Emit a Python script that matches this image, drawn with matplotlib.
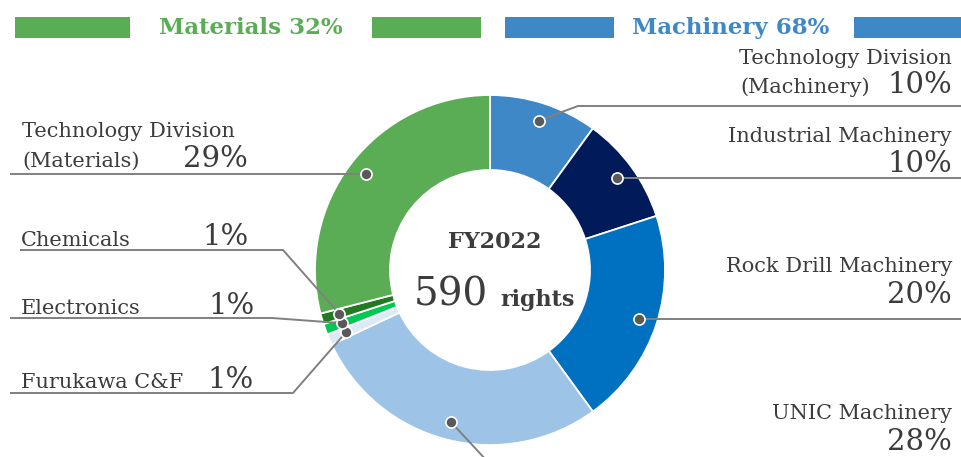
import matplotlib
matplotlib.use("Agg")
import matplotlib.pyplot as plt
import numpy as np

# data (clockwise from 12 o'clock)
segments = ["Technology Division (Machinery)", "Industrial Machinery", "Rock Drill Machinery",
            "UNIC Machinery", "Furukawa C&F", "Electronics", "Chemicals",
            "Technology Division (Materials)"]
shares = [10, 10, 20, 28, 1, 1, 1, 29]
seg_colors = ["#3f88c8", "#001a5a", "#0070c0", "#9dc3e6", "#dce9f6", "#00c853", "#237a23", "#5aad55"]
groups = ["Materials 32%", "Machinery 68%"]
total_rights = 590
year = "FY2022"

W, H = 962, 457
TXT = "#3c3c3c"
LINE = "#808080"
SERIF = "DejaVu Serif"


def Y(y):
    # image row -> data y
    return H - y


fig = plt.figure(figsize=(W / 100, H / 100), dpi=100)
ax = fig.add_axes([0, 0, 1, 1])

cx, cy, R = 490, Y(270), 175
wedges, _ = ax.pie(shares, colors=seg_colors, startangle=90, counterclock=False,
                   radius=R, center=(cx, cy), frame=True,
                   wedgeprops=dict(width=75, edgecolor="white", linewidth=1.3))
ax.set_xlim(0, W)
ax.set_ylim(0, H)
ax.set_aspect("equal")
ax.axis("off")

# dot positions at mid angle of each wedge
dots = []
for w in wedges:
    a = np.deg2rad((w.theta1 + w.theta2) / 2)
    dots.append((cx + 157 * np.cos(a), cy + 157 * np.sin(a)))

# leader paths: elbow / end points in image pixels, None = keep dot height
leaders = [
    [(578, 106), (962, 106)],
    [(962, None)],
    [(962, None)],
    [(488, 462)],
    [(293, 393), (10, 393)],
    [(272, 318), (10, 318)],
    [(283, 250), (20, 250)],
    [(10, None)],
]
for (dx, dy), pts in zip(dots, leaders):
    xs = [dx] + [p[0] for p in pts]
    ys = [dy] + [dy if p[1] is None else Y(p[1]) for p in pts]
    ax.plot(xs, ys, color=LINE, lw=1.4, solid_capstyle="butt", zorder=3)
for dx, dy in dots:
    ax.plot(dx, dy, "o", ms=8, color="#595959", mec="white", mew=1.2, zorder=4)

lab = dict(family=SERIF, color=TXT, fontsize=15)
pct = dict(family=SERIF, color=TXT, fontsize=21)

# right side labels
ax.text(952, Y(64), "Technology Division", ha="right", va="baseline", **lab)
ax.text(740, Y(93), "(Machinery)", ha="left", va="baseline", **lab)
ax.text(952, Y(93), f"{shares[0]}%", ha="right", va="baseline", **pct)
ax.text(952, Y(142), "Industrial Machinery", ha="right", va="baseline", **lab)
ax.text(952, Y(172), f"{shares[1]}%", ha="right", va="baseline", **pct)
ax.text(952, Y(272), "Rock Drill Machinery", ha="right", va="baseline", **lab)
ax.text(952, Y(303), f"{shares[2]}%", ha="right", va="baseline", **pct)
ax.text(952, Y(419), "UNIC Machinery", ha="right", va="baseline", **lab)
ax.text(952, Y(450), f"{shares[3]}%", ha="right", va="baseline", **pct)

# left side labels
ax.text(22, Y(137), "Technology Division", ha="left", va="baseline", **lab)
ax.text(22, Y(167), "(Materials)", ha="left", va="baseline", **lab)
ax.text(183, Y(167), f"{shares[7]}%", ha="left", va="baseline", **pct)
ax.text(21, Y(246), "Chemicals", ha="left", va="baseline", **lab)
ax.text(202, Y(245), f"{shares[6]}%", ha="left", va="baseline", **pct)
ax.text(21, Y(314), "Electronics", ha="left", va="baseline", **lab)
ax.text(208, Y(314), f"{shares[5]}%", ha="left", va="baseline", **pct)
ax.text(21, Y(388), "Furukawa C&F", ha="left", va="baseline", **lab)
ax.text(207, Y(388), f"{shares[4]}%", ha="left", va="baseline", **pct)

# centre text
ax.text(cx + 5, Y(242), year, ha="center", va="center", family=SERIF,
        fontsize=16, fontweight="semibold", color=TXT)
ax.text(488, Y(306), str(total_rights), ha="right", va="baseline", family=SERIF,
        fontsize=28, color=TXT)
ax.text(500, Y(306), "rights", ha="left", va="baseline", family=SERIF,
        fontsize=16, fontweight="bold", color=TXT)

# group header bars
green, blue = "#5aad55", "#3f88c8"
for x0, x1, c in [(15, 130, green), (372, 481, green), (505, 614, blue), (854, 970, blue)]:
    ax.add_patch(plt.Rectangle((x0, Y(38)), x1 - x0, 21, color=c, lw=0))
ax.text(251, Y(28), groups[0], ha="center", va="center", family=SERIF,
        fontsize=16.5, fontweight="bold", color=green)
ax.text(731, Y(28), groups[1], ha="center", va="center", family=SERIF,
        fontsize=16.5, fontweight="bold", color=blue)

fig.savefig("out.png", dpi=100)
